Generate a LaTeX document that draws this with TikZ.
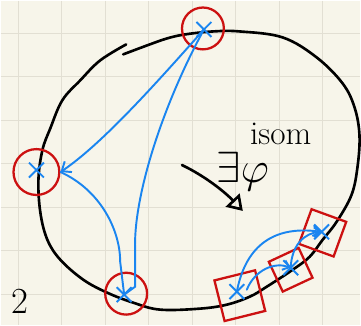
\documentclass[tikz,border=0pt]{standalone}
\usepackage{amsmath,amssymb}
\usepackage{xcolor}
\usepackage{tikz}
\usetikzlibrary{shapes.misc,arrows.meta,positioning}
\definecolor{paper}{HTML}{F7F5EA}
\definecolor{gridln}{HTML}{E2DFD3}
\definecolor{penred}{HTML}{CC1111}
\definecolor{penblue}{HTML}{1A85F0}

\begin{document}
\begin{tikzpicture}[x=0.02cm, y=-0.02cm,
  ring/.style={circle, draw=penred, line width=1.3pt, inner sep=0pt},
  patch/.style={rectangle, draw=penred, line width=1.3pt, inner sep=0pt},
  pt/.style={cross out, draw=penblue, line width=1.1pt, minimum size=0.26cm, inner sep=0pt},
  flow/.style={draw=penblue, line width=1.1pt, line cap=round},
  ink/.style={line width=1.5pt, line cap=round}]
  % paper and grid
  \fill[paper] (0,0) rectangle (361,325);
  \foreach \i in {0,...,7}
    \draw[gridln, line width=0.6pt] ({18+43.6*\i},0) -- ({18+43.6*\i},325);
  \foreach \j in {0,...,6}
    \draw[gridln, line width=0.6pt] (0,{33+43.6*\j}) -- (361,{33+43.6*\j});
  \useasboundingbox (0,0) rectangle (361,325);

  % the surface
  \draw[ink] plot[smooth, tension=0.6] coordinates {(123,54) (147,45) (167,38)
    (185,34) (213,31) (240,31) (283,37) (317,57) (343,83) (355,107) (360,135)
    (358,167) (352,195) (337,222) (323,240) (310,257) (293,270) (267,287)
    (250,297) (227,305) (200,309) (160,310) (133,303) (107,293) (83,280)
    (60,260) (47,240) (40,213) (38,180) (42,150) (50,128) (62,100) (80,80)
    (100,60) (126,44)};

  % marked points
  \node[ring, minimum size=0.84cm] (ringT) at (203,28) {};
  \node[ring, minimum size=0.92cm] (ringL) at (36,172) {};
  \node[ring, minimum size=0.84cm] (ringB) at (126,294) {};
  \node[pt] (xT) at (204,29) {};
  \node[pt] (xL) at (36,170) {};
  \node[pt] (xB) at (124,295) {};

  % small patches
  \node[patch, minimum size=0.84cm, rotate=14] (sq1) at (240,296) {};
  \node[patch, minimum size=0.66cm, rotate=25] (sq2) at (291,270) {};
  \node[patch, minimum size=0.74cm, rotate=-20] (sq3) at (323,233) {};
  \node[pt] (x1) at (237,292) {};
  \node[pt] (x2) at (291,268) {};
  \node[pt] (x3) at (322,232) {};

  % geodesics
  \draw[flow, -{Straight Barb[length=1.6mm, width=2.6mm]}] (xT.center)
    .. controls (150,90) and (100,145) .. (ringL.east);
  \draw[flow] (ringL.east) .. controls (100,190) and (120,230) .. (120,262)
    -- (xB.center);
  \draw[flow] (xT.center) .. controls (160,110) and (133,200) .. (135,250)
    -- (135,287) -- (xB.center);
  \draw[flow, -{Straight Barb[length=1.4mm, width=2.2mm]}] (x1.center)
    .. controls (245,250) and (270,225) .. (x3.center);
  \draw[flow, -{Straight Barb[length=1.2mm, width=2mm]}] (247,290)
    .. controls (255,270) and (275,262) .. (x2.center);
  \draw[flow, -{Straight Barb[length=1.2mm, width=2mm]}] (x2.center)
    .. controls (292,245) and (305,233) .. (x3.center);

  % the map
  \coordinate (arrS) at (182,165);
  \coordinate (arrE) at (243,211);
  \draw[ink, -{Triangle[open, length=3mm, width=3.8mm, line width=1.5pt]}] (arrS)
    .. controls (205,176) and (225,192) .. (arrE);
  \node[inner sep=0pt] (phi) at (243,172) {\fontsize{26}{26}\selectfont$\exists\varphi$};
  \node[inner sep=0pt] (isom) at (281,134) {\fontsize{19}{19}\selectfont isom};
  \node (num) at (19,302) {\fontsize{21}{21}\selectfont 2};
\end{tikzpicture}
\end{document}
